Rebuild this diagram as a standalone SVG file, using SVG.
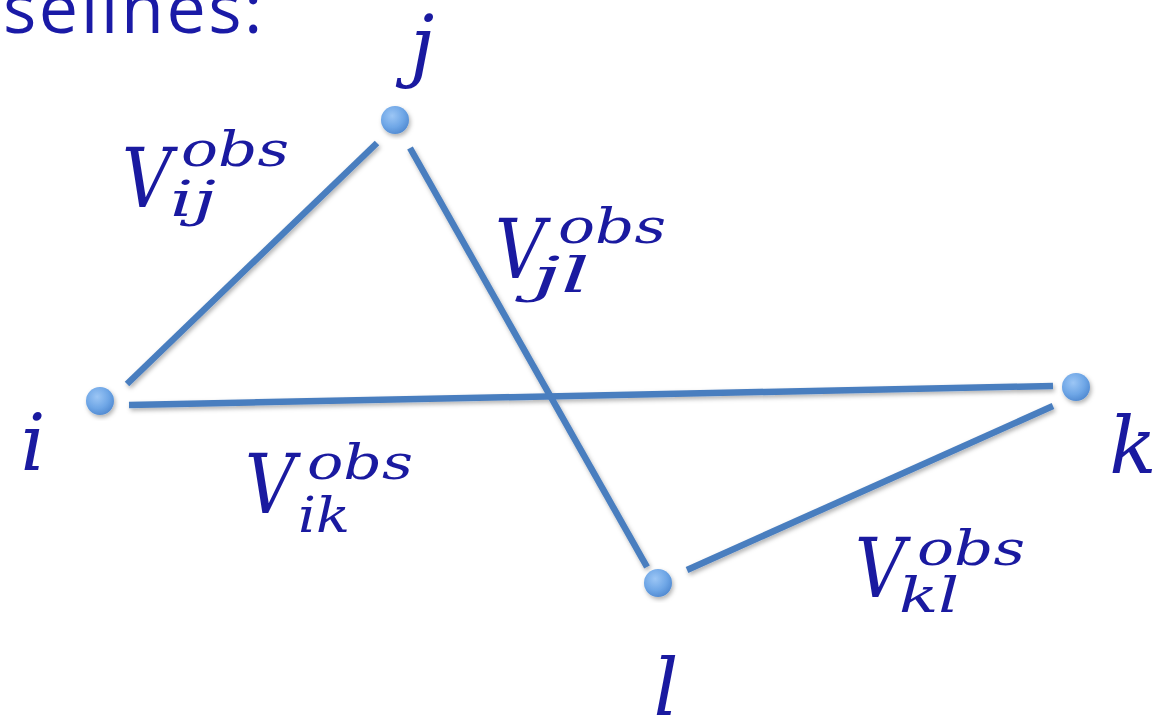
<svg xmlns="http://www.w3.org/2000/svg" width="1165" height="724" viewBox="0 0 1165 724">
<style>
.math{font-family:"DejaVu Serif","Liberation Serif",serif;font-style:italic;fill:#1a1aa0}
.big{font-size:82px}
.sm{font-size:48px}
.one{font-size:78px}
.edge{stroke:#4a7ebf;stroke-width:6.5;stroke-linecap:butt;fill:none}
.title{font-family:"Open Sans","Liberation Sans",sans-serif;font-size:70px;fill:#1a1aa6}
</style>
<defs>
<radialGradient id="nodeGrad" cx="0.4" cy="0.35" r="0.7">
<stop offset="0" stop-color="#9cc6f5"/>
<stop offset="0.6" stop-color="#6ea6e6"/>
<stop offset="1" stop-color="#4f88d0"/>
</radialGradient>
<filter id="shadow" x="-20%" y="-20%" width="140%" height="140%">
<feDropShadow dx="1.5" dy="2.5" stdDeviation="2" flood-color="#000" flood-opacity="0.3"/>
</filter>
</defs>
<rect width="1165" height="724" fill="#ffffff"/>
<text class="title" x="265" y="33" text-anchor="end" letter-spacing="2.5">baselines:</text>
<g id="connectors" filter="url(#shadow)">
<line class="edge" x1="127" y1="384" x2="377" y2="143"/>
<line class="edge" x1="129" y1="405" x2="1053" y2="386"/>
<line class="edge" x1="410" y1="148" x2="647" y2="567"/>
<line class="edge" x1="687" y1="570" x2="1053" y2="406"/>
</g>
<g id="node-i">
<circle cx="100" cy="401" r="14" fill="url(#nodeGrad)" filter="url(#shadow)"/>
<text class="math one" x="33" y="470" text-anchor="middle">i</text>
</g>
<g id="node-j">
<circle cx="395" cy="120" r="14" fill="url(#nodeGrad)" filter="url(#shadow)"/>
<text class="math one" x="422" y="72" text-anchor="middle">j</text>
</g>
<g id="node-k">
<circle cx="1076" cy="387" r="14" fill="url(#nodeGrad)" filter="url(#shadow)"/>
<text class="math one" x="1133" y="473" text-anchor="middle" font-size="82">k</text>
</g>
<g id="node-l">
<circle cx="658" cy="583" r="14" fill="url(#nodeGrad)" filter="url(#shadow)"/>
<text class="math one" x="666" y="715" text-anchor="middle">l</text>
</g>
<g id="label-ij">
<text class="math big" x="122" y="207" textLength="50" lengthAdjust="spacingAndGlyphs">V</text>
<text class="math sm" x="181" y="166" textLength="108" lengthAdjust="spacingAndGlyphs">obs</text>
<text class="math sm" x="170" y="216" textLength="46" lengthAdjust="spacingAndGlyphs">ij</text>
</g>
<g id="label-jl">
<text class="math big" x="495" y="278" textLength="50" lengthAdjust="spacingAndGlyphs">V</text>
<text class="math sm" x="558" y="243" textLength="108" lengthAdjust="spacingAndGlyphs">obs</text>
<text class="math sm" x="532" y="292" textLength="58" lengthAdjust="spacingAndGlyphs">jl</text>
</g>
<g id="label-ik">
<text class="math big" x="245" y="513" textLength="50" lengthAdjust="spacingAndGlyphs">V</text>
<text class="math sm" x="307" y="479" textLength="106" lengthAdjust="spacingAndGlyphs">obs</text>
<text class="math sm" x="298" y="532" textLength="52" lengthAdjust="spacingAndGlyphs">ik</text>
</g>
<g id="label-kl">
<text class="math big" x="855" y="597" textLength="50" lengthAdjust="spacingAndGlyphs">V</text>
<text class="math sm" x="917" y="565" textLength="108" lengthAdjust="spacingAndGlyphs">obs</text>
<text class="math sm" x="899" y="612" textLength="60" lengthAdjust="spacingAndGlyphs">kl</text>
</g>
</svg>
